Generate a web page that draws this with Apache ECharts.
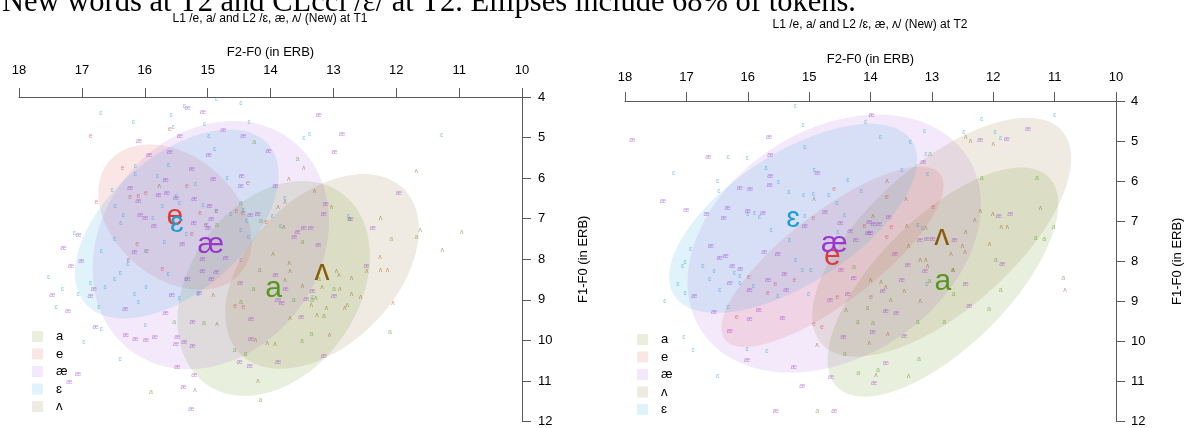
<!DOCTYPE html>
<html><head><meta charset="utf-8">
<script src="https://cdn.jsdelivr.net/npm/echarts@6/dist/echarts.min.js"></script>
<style>html,body{margin:0;padding:0;background:#fff}#c{width:1185px;height:428px}</style>
</head><body><div id="c"></div>
<script>
// ---------- axis ranges (ERB) ----------
const F2_MIN = 10, F2_MAX = 18, F1_MIN = 4, F1_MAX = 12;

// ---------- text ----------
const mainTitle = "New words at T2 and CLccl /ɛ/ at T2. Ellipses include 68% of tokens.";
const panelTitles = ["L1 /e, a/ and L2 /ɛ, æ, ʌ/ (New) at T1", "L1 /e, a/ and L2 /ɛ, æ, ʌ/ (New) at T2"];
const xName = "F2-F0 (in ERB)";
const yName = "F1-F0 (in ERB)";

// ---------- vowels ----------
const vowels = ["a", "e", "æ", "ɛ", "ʌ"];
const legendT1 = ["a", "e", "æ", "ɛ", "ʌ"];
const legendT2 = ["a", "e", "æ", "ʌ", "ɛ"];
const vowelColor = {"a": "#52981a", "e": "#e0393a", "æ": "#9b35d0", "ɛ": "#1c9ed4", "ʌ": "#8a5b06"};
const vowelFill = {"a": "rgba(110,160,45,0.16)", "e": "rgba(230,75,75,0.14)", "æ": "rgba(165,75,220,0.12)", "ɛ": "rgba(50,165,220,0.15)", "ʌ": "rgba(140,110,50,0.14)"};

// ---------- ellipses: [meanF2, meanF1, sdF2-extent, sdF1-extent, correlation] ----------
const t1Ellipses = {
  "a": [13.95, 8.72, 1.53, 2.65, 0.30],
  "e": [15.52, 6.96, 1.22, 1.79, -0.33],
  "æ": [14.95, 7.65, 1.88, 3.06, 0.19],
  "ɛ": [15.49, 7.13, 1.62, 2.33, 0.52],
  "ʌ": [13.18, 8.30, 1.54, 2.40, 0.43]
};
const t2Ellipses = {
  "a": [12.82, 8.52, 1.88, 2.86, 0.68],
  "e": [14.62, 7.89, 1.81, 2.25, 0.79],
  "æ": [14.59, 7.56, 2.39, 3.22, 0.30],
  "ʌ": [12.84, 7.40, 2.11, 2.98, 0.66],
  "ɛ": [15.26, 6.93, 2.02, 2.36, 0.62]
};

// ---------- tokens T1 [F2, F1] ----------
const t1_a = [[14.26,5.10],[13.57,5.52],[14.85,7.15],[14.15,7.06],[14.47,6.62],[13.49,7.57],[12.08,7.49],[11.68,7.45],[12.75,7.01],[14.17,8.26],[14.27,8.73],[13.63,9.01],[14.47,9.05],[13.34,9.01],[12.99,8.73],[13.15,9.40],[13.23,8.48],[13.35,9.84],[13.50,10.02],[14.57,10.23],[14.40,10.33],[15.06,9.58],[15.53,9.54],[15.90,11.28],[14.16,11.47],[12.10,9.80]];
const t1_e = [[16.86,4.97],[16.35,5.74],[15.60,4.79],[16.77,6.58],[16.23,6.47],[16.10,6.44],[15.98,6.37],[15.33,6.20],[15.12,6.86],[14.86,6.80],[14.54,6.80],[14.44,6.86],[14.36,6.12],[15.03,7.15],[15.25,7.39],[16.12,7.63],[15.96,7.79],[16.26,8.02],[15.72,8.24],[14.56,9.16],[14.43,9.17],[14.07,7.08]];
const t1_ae = [[15.32,4.28],[15.07,4.37],[13.23,4.45],[12.86,4.91],[12.98,5.36],[14.43,4.96],[14.75,4.82],[15.44,4.96],[16.09,5.08],[15.93,5.44],[15.60,5.36],[14.98,5.43],[14.03,5.34],[15.25,5.77],[15.67,6.05],[14.91,6.03],[14.47,6.19],[14.46,5.95],[16.23,6.25],[16.10,6.56],[15.78,6.42],[15.65,6.38],[15.50,6.48],[15.21,6.52],[14.97,6.70],[14.94,7.02],[16.07,6.92],[15.85,7.19],[15.99,6.98],[15.22,7.10],[15.40,7.63],[15.08,8.00],[15.08,8.28],[14.86,8.32],[14.94,8.48],[15.32,8.48],[14.71,7.96],[14.32,6.90],[14.20,6.88],[13.92,6.20],[13.12,6.63],[13.15,6.88],[13.57,7.32],[13.47,7.23],[13.36,7.23],[13.62,7.45],[13.24,7.65],[12.37,7.23],[11.96,6.38],[12.72,7.01],[12.47,8.16],[17.05,7.40],[17.29,7.73],[17.01,8.05],[17.17,8.16],[17.47,8.89],[16.86,8.91],[16.81,8.73],[17.22,9.27],[16.31,9.24],[15.67,9.33],[15.57,8.89],[15.13,8.83],[14.48,8.59],[13.92,8.39],[13.76,8.73],[13.88,9.01],[13.82,9.09],[13.51,9.42],[13.43,8.97],[12.99,8.91],[13.33,8.78],[14.31,9.47],[15.24,9.54],[16.30,9.86],[16.15,9.96],[15.98,9.98],[15.84,9.92],[15.48,9.92],[15.50,10.09],[15.37,10.05],[15.24,10.13],[16.78,9.68],[15.48,10.67],[15.21,10.86],[15.38,11.14],[17.06,10.84],[17.20,11.04],[15.26,11.70],[14.49,10.54],[14.33,10.63],[13.88,10.53],[13.15,10.39],[14.31,9.96],[16.16,7.82],[14.99,7.24]];
const t1_eh = [[16.70,4.39],[16.18,4.61],[15.58,4.44],[15.37,4.23],[14.86,4.06],[14.47,4.16],[15.05,4.66],[14.34,4.61],[15.55,4.75],[14.89,5.28],[14.98,4.96],[15.62,5.67],[16.15,5.70],[16.52,6.29],[16.15,5.89],[15.80,5.94],[15.50,6.44],[15.19,6.15],[14.69,5.99],[16.47,6.70],[16.34,6.92],[16.38,7.10],[15.87,6.98],[15.72,6.70],[15.45,6.62],[15.07,6.66],[14.86,6.80],[14.63,6.89],[14.43,6.78],[14.38,7.06],[14.47,7.29],[15.01,7.15],[15.34,7.39],[15.69,7.57],[15.99,7.79],[16.48,7.51],[17.12,7.35],[16.69,7.81],[16.27,8.12],[15.63,8.36],[15.35,8.48],[16.39,8.35],[16.48,8.48],[16.63,8.69],[16.86,8.59],[17.06,8.85],[17.31,8.73],[17.53,8.44],[17.41,9.17],[16.73,9.17],[16.10,9.05],[16.16,8.85],[15.98,8.69],[15.45,8.95],[15.15,8.85],[14.47,8.01],[14.35,7.45],[13.97,6.94],[13.84,7.19],[13.33,8.93],[12.76,6.94],[13.77,6.50],[16.69,9.72],[16.97,10.04],[16.39,10.47],[15.99,9.62],[11.28,4.93],[13.38,4.91],[13.47,5.02]];
const t1_v = [[13.47,5.75],[13.71,6.03],[13.30,6.31],[13.03,6.72],[13.88,6.72],[13.77,6.60],[13.79,7.21],[12.25,6.98],[11.62,7.27],[10.96,7.32],[11.27,7.78],[11.68,5.82],[12.26,7.94],[12.47,8.30],[12.25,8.26],[12.14,8.26],[12.71,8.46],[12.57,8.93],[12.05,9.08],[12.95,8.30],[12.91,8.39],[13.18,8.69],[13.28,8.95],[12.90,8.73],[12.78,9.12],[12.82,9.21],[12.71,8.85],[13.69,8.28],[13.96,7.87],[13.70,8.09],[13.49,8.66],[13.26,9.38],[13.11,9.21],[13.35,9.13],[13.69,9.46],[13.77,8.51],[13.06,9.86],[13.93,10.08],[14.05,10.07],[14.24,9.98],[14.20,11.00],[14.91,8.89],[14.85,9.60],[15.20,11.22],[15.77,6.20]];

// ---------- tokens T2 [F2, F1] ----------
const t2_a = [[13.03,5.32],[12.19,5.92],[11.29,5.92],[11.02,7.14],[11.31,7.43],[11.17,7.45],[11.96,7.96],[11.88,8.72],[12.07,9.19],[10.86,8.42],[12.66,8.21],[13.04,8.50],[13.23,9.53],[12.80,9.51],[14.21,9.53],[13.96,9.55],[14.05,9.16],[14.27,8.15],[14.42,10.32],[14.20,10.79],[13.88,10.71],[13.21,10.44],[14.87,11.74],[12.65,8.83]];
const t2_e = [[14.59,6.19],[14.93,6.91],[13.73,6.41],[14.10,7.12],[13.66,7.14],[12.98,6.64],[13.99,8.89],[14.54,8.89],[14.79,9.64],[14.92,9.56],[15.67,8.79],[15.98,8.39],[15.24,8.48],[15.55,8.58],[16.18,9.39],[13.73,7.39]];
const t2_ae = [[13.98,4.35],[17.88,4.97],[15.65,4.91],[16.64,5.39],[15.63,5.36],[15.63,5.88],[16.13,6.17],[15.96,6.21],[15.64,6.09],[17.38,6.49],[17.00,6.72],[16.67,6.81],[16.33,6.68],[16.39,6.91],[16.00,6.74],[15.75,6.79],[15.07,7.12],[14.86,5.80],[14.74,6.78],[14.49,7.04],[14.33,7.25],[14.24,7.48],[14.02,7.01],[13.95,7.06],[13.86,7.06],[14.04,7.29],[14.00,7.30],[13.70,6.89],[13.60,7.81],[13.19,7.47],[13.08,7.45],[12.99,7.45],[12.63,7.47],[12.21,4.97],[11.78,4.95],[11.43,4.70],[11.72,6.82],[11.91,6.87],[13.14,5.53],[16.60,7.62],[16.46,7.92],[16.36,7.86],[16.25,8.11],[16.12,8.19],[16.29,8.54],[15.97,8.71],[15.73,7.76],[15.51,7.82],[15.40,8.32],[15.37,8.71],[15.67,8.46],[15.82,9.23],[15.97,9.45],[16.29,9.74],[16.87,8.86],[16.55,9.27],[15.43,9.41],[14.48,8.21],[14.27,8.43],[13.80,8.75],[13.49,8.46],[13.39,8.10],[13.11,8.25],[12.45,8.57],[12.39,9.12],[11.85,8.07],[14.66,8.98],[14.37,8.81],[14.44,9.90],[13.96,9.78],[13.75,9.24],[13.58,9.30],[13.45,9.86],[13.75,10.54],[13.94,11.04],[14.64,10.89],[15.25,10.65],[16.01,10.46],[15.11,11.12],[15.54,11.74],[14.59,11.74]];
const t2_eh = [[15.23,4.12],[11.00,4.35],[12.19,4.45],[14.08,4.52],[15.10,4.60],[13.84,4.91],[13.35,5.02],[13.12,4.74],[11.97,4.78],[11.88,4.92],[12.48,4.78],[15.07,5.16],[16.01,5.43],[16.32,5.39],[17.21,5.79],[16.49,6.00],[16.47,6.25],[15.70,5.67],[15.50,6.02],[15.33,6.27],[15.09,6.34],[14.93,6.33],[14.68,6.34],[14.92,5.72],[14.37,5.97],[14.15,6.25],[13.49,5.72],[13.07,5.82],[13.10,5.32],[15.62,7.22],[15.32,7.47],[15.07,6.87],[14.42,6.85],[14.55,6.56],[14.53,7.26],[16.00,6.81],[15.89,6.79],[15.81,6.89],[16.93,7.70],[17.02,8.03],[17.06,8.13],[16.73,8.13],[16.55,8.25],[16.62,8.44],[16.22,8.29],[16.13,8.38],[16.13,8.54],[15.91,8.61],[16.46,8.71],[17.02,8.79],[17.14,8.57],[17.35,9.00],[16.32,9.14],[15.51,8.86],[15.01,8.83],[15.22,7.96],[15.11,8.21],[14.97,8.21],[17.04,9.90],[16.89,10.21],[16.01,10.18],[15.69,10.23],[16.49,10.87],[13.23,7.10],[13.15,7.16],[13.08,8.58]];
const t2_v = [[12.45,4.91],[12.37,5.01],[12.00,5.07],[13.73,6.00],[13.42,6.46],[14.92,6.46],[13.96,6.87],[13.41,7.12],[13.38,7.61],[13.10,7.18],[12.45,7.26],[12.50,7.62],[12.46,7.78],[12.21,6.74],[12.01,6.82],[12.69,7.82],[13.19,7.96],[13.10,7.96],[13.07,8.13],[12.30,6.97],[12.06,7.58],[11.87,7.15],[11.77,7.15],[11.23,6.66],[10.83,8.71],[14.40,9.23],[13.83,8.53],[13.75,8.64],[14.00,8.48],[13.67,8.97],[13.45,8.75],[13.19,9.00],[14.02,10.03],[13.72,9.81],[13.91,10.85],[13.38,10.87],[14.87,10.09],[12.65,8.21]];

const t1Tokens = {"a": t1_a, "e": t1_e, "æ": t1_ae, "ɛ": t1_eh, "ʌ": t1_v};
const t2Tokens = {"a": t2_a, "e": t2_e, "æ": t2_ae, "ɛ": t2_eh, "ʌ": t2_v};

// ---------- build ----------
const FONT = "Liberation Sans, Arial, sans-serif";
const AXIS_COLOR = "#5a5a5a";

function ellipseRender(fill) {
  return function (params, api) {
    const cx = api.value(0), cy = api.value(1), sx = api.value(2), sy = api.value(3), r = api.value(4);
    const phi = Math.acos(r);
    const pts = [];
    const N = 120;
    for (let i = 0; i < N; i++) {
      const t = 2 * Math.PI * i / N;
      pts.push(api.coord([cx + sx * Math.cos(t), cy + sy * Math.cos(t - phi)]));
    }
    return {type: "polygon", shape: {points: pts}, style: {fill: fill, stroke: null}};
  };
}
function glyphRender(text, color, size, opacity) {
  return function (params, api) {
    const p = api.coord([api.value(0), api.value(1)]);
    return {type: "text", x: p[0], y: p[1],
      style: {text: text, fill: color, opacity: opacity, font: size + "px " + FONT,
        align: "center", verticalAlign: "middle", textAlign: "center", textVerticalAlign: "middle"}};
  };
}

const series = [];
[[t1Ellipses, t1Tokens], [t2Ellipses, t2Tokens]].forEach(function (pair, gi) {
  const ell = pair[0], tok = pair[1];
  Object.keys(ell).forEach(function (v) {
    series.push({type: "custom", name: v, xAxisIndex: gi, yAxisIndex: gi, coordinateSystem: "cartesian2d",
      itemStyle: {color: vowelFill[v]}, data: [ell[v]], encode: {x: 0, y: 1}, renderItem: ellipseRender(vowelFill[v]),
      z: 1, silent: true, clip: false});
  });
  vowels.forEach(function (v) {
    series.push({type: "custom", name: v + " tokens", xAxisIndex: gi, yAxisIndex: gi, coordinateSystem: "cartesian2d",
      data: tok[v], encode: {x: 0, y: 1}, renderItem: glyphRender(v, vowelColor[v], 7, 0.55), z: 2, silent: true, clip: false});
  });
  Object.keys(ell).forEach(function (v) {
    series.push({type: "custom", name: v + " mean", xAxisIndex: gi, yAxisIndex: gi, coordinateSystem: "cartesian2d",
      data: [ell[v].slice(0, 2)], encode: {x: 0, y: 1}, renderItem: glyphRender(v, vowelColor[v], 30, 1), z: 3, silent: true, clip: false});
  });
});

function xAx(gi, nameGap, margin) {
  return {gridIndex: gi, type: "value", min: F2_MIN, max: F2_MAX, interval: 1, inverse: true, position: "top",
    name: xName, nameLocation: "middle", nameGap: nameGap, nameTextStyle: {fontSize: 13, color: "#000", fontFamily: FONT},
    axisLine: {show: true, onZero: false, lineStyle: {color: AXIS_COLOR, width: 1}},
    axisTick: {show: true, length: 9, lineStyle: {color: AXIS_COLOR}},
    axisLabel: {margin: margin, fontSize: 13, color: "#000", fontFamily: FONT},
    splitLine: {show: false}};
}
function yAx(gi, nameGap, margin) {
  return {gridIndex: gi, type: "value", min: F1_MIN, max: F1_MAX, interval: 1, inverse: true, position: "right",
    name: yName, nameLocation: "middle", nameRotate: 90, nameGap: nameGap, nameTextStyle: {fontSize: 13, color: "#000", fontFamily: FONT},
    axisLine: {show: true, onZero: false, lineStyle: {color: AXIS_COLOR, width: 1}},
    axisTick: {show: true, length: 9, lineStyle: {color: AXIS_COLOR}},
    axisLabel: {margin: margin, fontSize: 13, color: "#000", fontFamily: FONT},
    splitLine: {show: false}};
}
function legendAt(left, top, names) {
  return {orient: "vertical", left: left, top: top, height: 100, padding: 0, data: names, icon: "rect", itemWidth: 11, itemHeight: 11, itemGap: 4.5,
    selectedMode: false, textStyle: {fontSize: 13, lineHeight: 11, color: "#000", fontFamily: FONT, padding: [0, 0, 0, 8]}};
}

const option = {
  animation: false,
  backgroundColor: "#fff",
  grid: [{left: 19, top: 97, width: 503, height: 328}, {left: 625, top: 101, width: 493, height: 323}],
  xAxis: [xAx(0, 38, 20), xAx(1, 34, 17)],
  yAxis: [yAx(0, 55, 16), yAx(1, 55, 15)],
  legend: [legendAt(32, 330, legendT1), legendAt(637, 333, legendT2)],
  graphic: [
    {type: "text", left: 2, top: -13, silent: true, style: {text: mainTitle, font: "30.5px Liberation Serif, Times New Roman, serif", fill: "#000"}},
    {type: "text", x: 270, y: 19, silent: true, style: {text: panelTitles[0], font: "12px " + FONT, fill: "#000", align: "center", verticalAlign: "middle", textAlign: "center", textVerticalAlign: "middle"}},
    {type: "text", x: 870, y: 25, silent: true, style: {text: panelTitles[1], font: "12px " + FONT, fill: "#000", align: "center", verticalAlign: "middle", textAlign: "center", textVerticalAlign: "middle"}}
  ],
  series: series
};
const chart = echarts.init(document.getElementById("c"), null, {renderer: "canvas"});
chart.setOption(option);
</script></body></html>
